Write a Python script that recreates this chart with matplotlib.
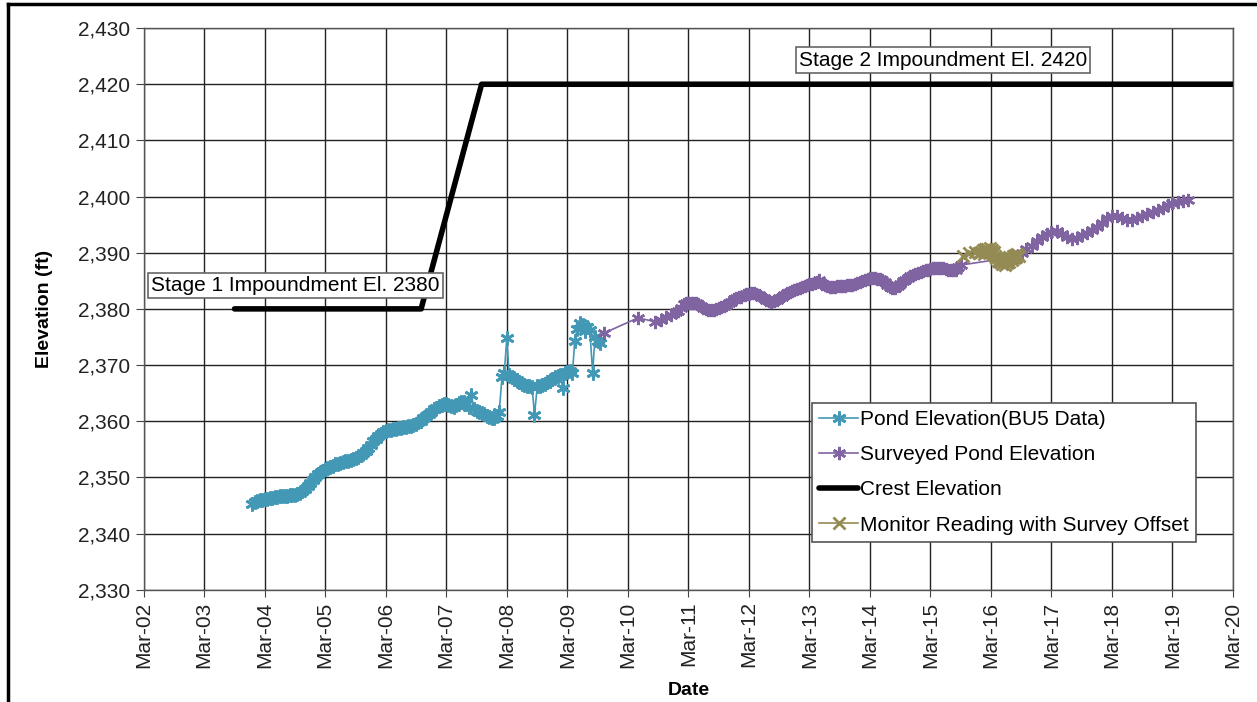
import numpy as np
import pandas as pd
import matplotlib
matplotlib.use('Agg')
import matplotlib.pyplot as plt
import matplotlib.dates as mdates
from matplotlib.lines import Line2D
from matplotlib.ticker import FuncFormatter

plt.rcParams['font.family'] = ['Liberation Sans', 'DejaVu Sans']

# Pond elevation, BU5 data (ft), read twice a month from the picture
bu5_dates = pd.date_range('2003-12-15', '2009-09-15', freq='SMS')
bu5_elev = [
    2345.3,
    # 2004
    2345.6, 2345.8, 2345.9, 2346.0, 2346.1, 2346.2, 2346.3, 2346.4, 2346.5, 2346.5, 2346.6, 2346.6,
    2346.7, 2346.7, 2346.8, 2346.8, 2346.9, 2347.1, 2347.3, 2347.6, 2348.0, 2348.4, 2349.0, 2349.5,
    # 2005
    2350.1, 2350.6, 2350.9, 2351.2, 2351.5, 2351.7, 2351.9, 2352.1, 2352.3, 2352.4, 2352.5, 2352.7,
    2352.9, 2353.0, 2353.1, 2353.2, 2353.4, 2353.6, 2353.9, 2354.3, 2354.7, 2355.2, 2355.8, 2356.4,
    # 2006
    2356.9, 2357.4, 2357.7, 2358.0, 2358.2, 2358.4, 2358.5, 2358.6, 2358.7, 2358.8, 2358.8, 2358.9,
    2359.0, 2359.1, 2359.2, 2359.3, 2359.5, 2359.8, 2360.1, 2360.5, 2360.9, 2361.3, 2361.7, 2362.1,
    # 2007
    2362.4, 2362.7, 2362.9, 2363.0, 2363.0, 2362.9, 2362.7, 2362.6, 2362.9, 2363.3, 2363.5, 2363.5,
    2363.1, 2362.6, 2364.7, 2362.2, 2361.9, 2361.7, 2361.4, 2361.2, 2360.9, 2360.7, 2360.6, 2360.6,
    # 2008
    2361.0, 2361.6, 2367.8, 2368.6, 2374.8, 2368.3, 2367.9, 2367.6, 2367.3, 2367.0, 2366.7, 2366.5,
    2366.3, 2366.2, 2366.1, 2361.1, 2366.2, 2366.3, 2366.5, 2366.7, 2367.0, 2367.2, 2367.5, 2367.8,
    # 2009
    2368.0, 2368.3, 2366.0, 2368.6, 2368.8, 2369.0, 2368.5, 2374.3, 2376.5, 2377.5, 2377.2, 2376.0,
    2376.8, 2376.3, 2368.6, 2375.0, 2374.2, 2373.9,
]

# Surveyed pond elevation (ft): sparse start, dense 2011-2015, monthly 2016-2019
survey_start_dates = pd.to_datetime(['2009-10-10', '2010-05-01', '2010-08-15', '2010-09-15',
                                     '2010-10-15', '2010-11-15', '2010-12-15'])
survey_start_elev = [2375.7, 2378.4, 2377.7, 2378.1, 2378.5, 2378.9, 2379.4]

survey_mid_dates = pd.date_range('2011-01-01', '2015-09-01', freq='SMS')
survey_mid_elev = [
    # 2011
    2379.6, 2380.2, 2380.8, 2381.0, 2381.1, 2381.1, 2381.1, 2381.0, 2380.8, 2380.5, 2380.2, 2380.0,
    2379.8, 2379.8, 2379.8, 2379.9, 2380.1, 2380.3, 2380.5, 2380.7, 2381.0, 2381.3, 2381.7, 2382.0,
    # 2012
    2382.1, 2382.2, 2382.4, 2382.6, 2382.7, 2382.8, 2382.8, 2382.7, 2382.5, 2382.2, 2381.9, 2381.6,
    2381.4, 2381.3, 2381.4, 2381.6, 2381.9, 2382.2, 2382.5, 2382.8, 2383.0, 2383.2, 2383.4, 2383.6,
    # 2013
    2383.7, 2383.9, 2384.0, 2384.2, 2384.4, 2384.5, 2384.6, 2384.7, 2385.2, 2384.5, 2384.2, 2384.0,
    2383.9, 2383.9, 2383.9, 2384.0, 2384.0, 2384.1, 2384.1, 2384.2, 2384.2, 2384.3, 2384.4, 2384.6,
    # 2014
    2384.8, 2385.0, 2385.2, 2385.4, 2385.5, 2385.5, 2385.5, 2385.4, 2385.3, 2385.1, 2384.8, 2384.3,
    2383.9, 2383.7, 2383.8, 2384.1, 2384.5, 2384.9, 2385.2, 2385.5, 2385.8, 2386.0, 2386.2, 2386.4,
    # 2015
    2386.6, 2386.8, 2386.9, 2387.0, 2387.1, 2387.2, 2387.3, 2387.3, 2387.3, 2387.2, 2387.1, 2387.0,
    2386.9, 2386.9, 2387.0, 2387.4, 2387.8,
]

survey_end_dates = pd.date_range('2016-08-01', '2019-06-01', freq='MS')
survey_end_elev = [
    2389.3, 2389.9, 2390.6, 2391.2, 2392.0,
    2392.8, 2393.4, 2393.7, 2393.9, 2393.4, 2392.8, 2392.5, 2392.7, 2393.1, 2393.6, 2394.1, 2394.6,
    2395.3, 2396.1, 2396.6, 2396.6, 2396.2, 2395.9, 2395.9, 2396.2, 2396.5, 2396.9, 2397.2, 2397.6,
    2398.0, 2398.5, 2398.9, 2399.1, 2399.2, 2399.4,
]

# Crest elevation (ft)
crest_dates = pd.to_datetime(['2003-09-01', '2006-10-01', '2007-10-01', '2020-03-01'])
crest_elev = [2380, 2380, 2420, 2420]

# Monitor reading with survey offset (ft)
monitor_start_dates = pd.to_datetime(['2015-09-15', '2015-10-20', '2015-11-25', '2015-12-20'])
monitor_start_elev = [2389.5, 2390.0, 2390.2, 2390.0]
monitor_weekly_dates = pd.date_range('2016-01-03', periods=33, freq='7D')
monitor_weekly_elev = [
    2390.1, 2390.4, 2389.8, 2390.6, 2390.2, 2390.7, 2390.3, 2390.8, 2390.1, 2390.5, 2389.7,
    2390.2, 2389.4, 2389.0, 2388.6, 2389.2, 2388.3, 2388.8, 2388.0, 2388.5, 2387.9, 2388.6,
    2388.2, 2388.9, 2388.4, 2389.1, 2388.7, 2389.4, 2389.0, 2389.6, 2389.3, 2389.8, 2389.5,
]

year_ticks = pd.date_range('2002-03-01', '2020-03-01', freq='12MS')
y_ticks = list(range(2330, 2431, 10))

survey_dates = survey_start_dates.append(survey_mid_dates).append(survey_end_dates)
survey_elev = survey_start_elev + survey_mid_elev + survey_end_elev
monitor_dates = monitor_start_dates.append(monitor_weekly_dates)
monitor_elev = monitor_start_elev + monitor_weekly_elev

fig = plt.figure(figsize=(12.57, 7.02), dpi=100)
ax = fig.add_axes([0.1142, 0.160, 0.8668, 0.800])

asterisk = (6, 2, 0)
ax.plot(bu5_dates, bu5_elev, color='#4298B5', marker=asterisk,
        markersize=10, markeredgewidth=2.0, linewidth=1.2, label='Pond Elevation(BU5 Data)', zorder=3)
ax.plot(survey_dates, survey_elev, color='#8064A2', marker=asterisk,
        markersize=9.5, markeredgewidth=1.8, linewidth=1.2, label='Surveyed Pond Elevation', zorder=3)
ax.plot(crest_dates, crest_elev, color='black', linewidth=4,
        solid_capstyle='round', label='Crest Elevation', zorder=4)
ax.plot(monitor_dates, monitor_elev, color='#948A54', marker='x',
        markersize=9, markeredgewidth=2.0, linewidth=1.2, label='Monitor Reading with Survey Offset', zorder=5)

ax.set_xlim(year_ticks[0], year_ticks[-1])
ax.set_ylim(2330, 2430)
ax.set_xticks(year_ticks)
ax.xaxis.set_major_formatter(mdates.DateFormatter('%b-%y'))
ax.set_yticks(y_ticks)
ax.yaxis.set_major_formatter(FuncFormatter(lambda v, p: f'{int(v):,}'))
ax.tick_params(axis='x', labelrotation=90, labelsize=15, direction='out', length=5, color='#444444')
ax.tick_params(axis='y', labelsize=15, direction='out', length=6, color='#444444')
for lab in ax.get_xticklabels() + ax.get_yticklabels():
    lab.set_color('#222222')

ax.grid(True, color='#222222', linewidth=1.0)
ax.set_axisbelow(True)
for sp in ax.spines.values():
    sp.set_color('#555555')
    sp.set_linewidth(1.0)

ax.set_xlabel('Date', fontsize=14, fontweight='bold', labelpad=10)
ax.set_ylabel('Elevation (ft)', fontsize=14, fontweight='bold', labelpad=18)

box = dict(boxstyle='square,pad=0.15', facecolor='white', edgecolor='#666666', linewidth=1.2)
ax.text(pd.Timestamp('2004-09-01'), 2384.1, 'Stage 1 Impoundment El. 2380', fontsize=15,
        ha='center', va='center', bbox=box, zorder=6)
ax.text(pd.Timestamp('2015-05-15'), 2424.3, 'Stage 2 Impoundment El. 2420', fontsize=15,
        ha='center', va='center', bbox=box, zorder=6)

leg = ax.legend(loc='upper left', bbox_to_anchor=(0.6136, 0.333), fontsize=15, frameon=True,
                fancybox=False, edgecolor='#555555', framealpha=1, handlelength=1.85,
                handletextpad=0.1, labelspacing=0.78, borderpad=0.35, borderaxespad=0)
leg.get_frame().set_linewidth(1.2)
leg.set_zorder(7)

# outer frame of the original figure
fig.add_artist(Line2D([0.0064, 0.0064], [0, 0.994], color='black', linewidth=2.5))
fig.add_artist(Line2D([0.0064, 1.0], [0.994, 0.994], color='black', linewidth=2.5))

fig.savefig('out.png', dpi=100)
